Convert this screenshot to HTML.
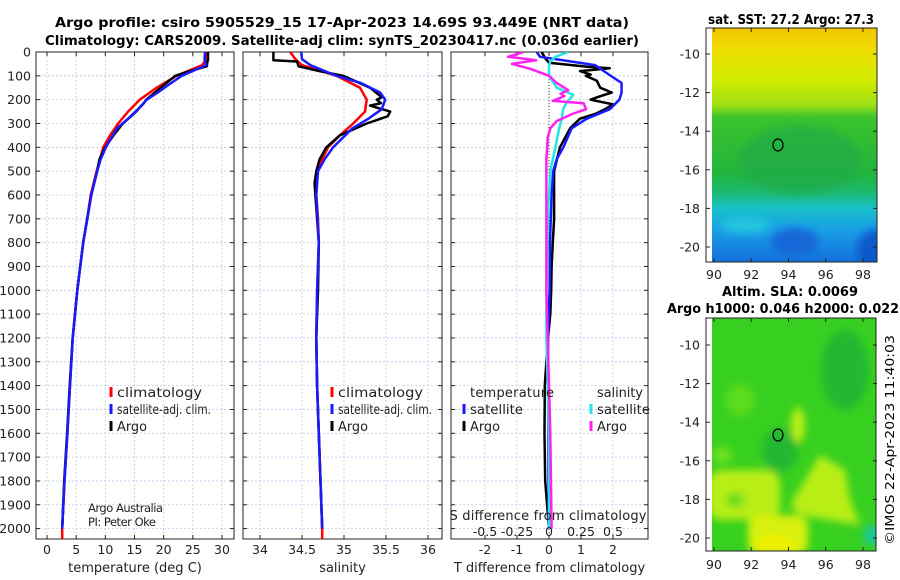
<!DOCTYPE html>
<html><head><meta charset="utf-8"><style>
html,body{margin:0;padding:0;background:#fff;}
svg{display:block;font-family:"DejaVu Sans","Liberation Sans",sans-serif;}
</style></head><body>
<svg id="fig" width="900" height="580" viewBox="0 0 900 580" xmlns="http://www.w3.org/2000/svg">
<defs>
<filter id="blur6" x="-30%" y="-30%" width="160%" height="160%"><feGaussianBlur stdDeviation="6"/></filter>
<filter id="blur4" x="-30%" y="-30%" width="160%" height="160%"><feGaussianBlur stdDeviation="4"/></filter>
<linearGradient id="sstgrad" x1="0" y1="0" x2="0" y2="1">
<stop offset="0" stop-color="#f2c400"/><stop offset="0.09" stop-color="#eedc00"/>
<stop offset="0.22" stop-color="#d2ec00"/><stop offset="0.33" stop-color="#9ee014"/>
<stop offset="0.38" stop-color="#3cc42c"/><stop offset="0.62" stop-color="#22b43c"/>
<stop offset="0.70" stop-color="#1cba70"/><stop offset="0.77" stop-color="#18c0c8"/>
<stop offset="0.86" stop-color="#1aa0e6"/><stop offset="1" stop-color="#1470dc"/>
</linearGradient>
<clipPath id="clipm1"><rect x="712" y="28" width="165" height="234"/></clipPath>
<clipPath id="clipm2"><rect x="712" y="318" width="164" height="233"/></clipPath>
<clipPath id="clipp1"><rect x="36" y="52" width="198" height="487"/></clipPath>
<clipPath id="clipp2"><rect x="243" y="52" width="199" height="487"/></clipPath>
<clipPath id="clipp3"><rect x="451" y="52" width="197" height="487"/></clipPath>
</defs>
<g id="titles">
<text x="342" y="27" text-anchor="middle" font-size="13" font-weight="bold" textLength="574" lengthAdjust="spacingAndGlyphs">Argo profile: csiro 5905529_15 17-Apr-2023 14.69S 93.449E (NRT data)</text>
<text x="342" y="45" text-anchor="middle" font-size="13" font-weight="bold" textLength="594" lengthAdjust="spacingAndGlyphs">Climatology: CARS2009. Satellite-adj clim: synTS_20230417.nc (0.036d earlier)</text>
<text x="791" y="24" text-anchor="middle" font-size="13" font-weight="bold" textLength="166" lengthAdjust="spacingAndGlyphs">sat. SST: 27.2 Argo: 27.3</text>
<text x="790" y="296" text-anchor="middle" font-size="13" font-weight="bold" textLength="136" lengthAdjust="spacingAndGlyphs">Altim. SLA: 0.0069</text>
<text x="783" y="313" text-anchor="middle" font-size="13" font-weight="bold" textLength="232" lengthAdjust="spacingAndGlyphs">Argo h1000: 0.046 h2000: 0.022</text>
<text x="0" y="0" font-size="12" text-anchor="middle" transform="translate(894,440) rotate(-90)" textLength="210" lengthAdjust="spacingAndGlyphs">©IMOS 22-Apr-2023 11:40:03</text>
</g>
<g id="maps">
<g>
<rect x="706" y="28" width="171" height="234" fill="#fff"/>
<g clip-path="url(#clipm1)">
<rect x="712" y="28" width="165" height="234" fill="url(#sstgrad)"/>
<g filter="url(#blur4)">
<ellipse cx="795" cy="242" rx="24" ry="14" fill="#1268d8"/>
<ellipse cx="875" cy="250" rx="18" ry="20" fill="#0c58cc"/>
<ellipse cx="745" cy="225" rx="25" ry="8" fill="#22c6e0"/>
<ellipse cx="800" cy="160" rx="60" ry="35" fill="#22a848" opacity="0.6"/>
</g>
</g>
<rect x="706" y="28" width="171" height="234" fill="none" stroke="#222" stroke-width="1"/>
<ellipse cx="778" cy="145" rx="5" ry="6" fill="none" stroke="#000" stroke-width="1.2"/>
</g>
<g>
<rect x="706" y="318" width="170" height="233" fill="#fff"/>
<g clip-path="url(#clipm2)">
<rect x="712" y="318" width="164" height="233" fill="#38d020"/>
<g filter="url(#blur4)">
<ellipse cx="845" cy="370" rx="24" ry="40" fill="#24b830"/>
<ellipse cx="780" cy="450" rx="18" ry="22" fill="#22b830"/>
<ellipse cx="740" cy="400" rx="14" ry="16" fill="#5cdc1c"/>
<rect x="708" y="470" width="72" height="50" rx="14" fill="#b8ee18"/>
<rect x="748" y="515" width="60" height="40" rx="12" fill="#d8f010"/>
<ellipse cx="775" cy="545" rx="20" ry="10" fill="#eef000"/>
<polygon points="790,505 820,455 845,470 850,500 860,525 830,520 800,515" fill="#b8ee18"/>
<ellipse cx="798" cy="425" rx="7" ry="18" fill="#b8ee18"/>
<ellipse cx="722" cy="455" rx="10" ry="8" fill="#6ee01a"/>
<ellipse cx="735" cy="500" rx="10" ry="8" fill="#70de1a"/>
<ellipse cx="872" cy="535" rx="8" ry="10" fill="#18c8a0"/>
</g>
</g>
<rect x="706" y="318" width="170" height="233" fill="none" stroke="#222" stroke-width="1"/>
<ellipse cx="778" cy="435" rx="5" ry="6" fill="none" stroke="#000" stroke-width="1.2"/>
</g>
<g id="mapaxes"></g>
</g>
<g id="panels"></g>
</svg>
<script>
const NS='http://www.w3.org/2000/svg';
// ---------- data ----------
const depthTicks=[0,100,200,300,400,500,600,700,800,900,1000,1100,1200,1300,1400,1500,1600,1700,1800,1900,2000];
const tTicks=[0,5,10,15,20,25,30];
const sTicks=[34,34.5,35,35.5,36];
const sTickLabels=['34','34.5','35','35.5','36'];
const dTTicks=[-2,-1,0,1,2];
const dSTicks=[-0.5,-0.25,0,0.25,0.5];
const dSTickLabels=['-0.5','-0.25','0','0.25','0.5'];
const lonTicks=[90,92,94,96,98];
const latTicks=[-10,-12,-14,-16,-18,-20];

const climDepth=[0,30,55,100,150,200,250,300,350,400,500,600,700,800,900,1000,1200,1400,1600,1800,2000,2044];
const climTemp=[27.5,27.3,26.6,22.2,18.8,15.9,13.9,12.2,10.8,9.65,8.5,7.5,6.9,6.2,5.7,5.2,4.4,3.95,3.5,3.0,2.6,2.6];
const climSal=[34.36,34.42,34.5,34.91,35.19,35.27,35.25,35.11,34.95,34.81,34.67,34.67,34.69,34.70,34.69,34.68,34.67,34.68,34.70,34.72,34.74,34.74];

const satDepth=[0,30,55,100,130,170,200,240,280,320,400,450,500,600,800,1000,1200,1400,1600,1800,2000];
const satTemp=[27.1,27.0,27.3,23.1,21.3,19.0,17.1,15.6,13.9,12.0,10.1,9.2,8.6,7.6,6.2,5.2,4.4,3.95,3.5,3.0,2.6];
const satSal=[34.49,34.5,34.6,34.91,35.2,35.43,35.49,35.45,35.29,35.1,34.87,34.77,34.69,34.67,34.7,34.68,34.67,34.68,34.7,34.72,34.74];

const argoDepth=[0,20,35,40,60,80,100,150,190,200,215,225,250,270,300,350,400,450,500,550,600,800,1000,1200,1400,1600,1800,2000];
const argoTemp=[27.6,27.6,27.6,27.5,27.4,24.5,22.0,19.5,17.5,17.0,16.6,16.2,15.3,14.4,13.0,11.4,10.0,9.0,8.6,8.1,7.6,6.2,5.2,4.4,3.9,3.45,2.95,2.6];
const argoSal=[34.16,34.16,34.16,34.44,34.46,34.71,34.99,35.31,35.45,35.39,35.44,35.31,35.55,35.52,35.27,34.95,34.79,34.71,34.67,34.65,34.66,34.70,34.69,34.67,34.68,34.70,34.72,34.74];

const dTSatDepth=[0,20,55,97,130,170,200,240,280,320,400,450,500,600,800,1000,1200,1500,1800,2000];
const dTSat=[-0.38,-0.28,1.44,1.9,2.27,2.27,2.2,1.9,1.18,0.71,0.45,0.24,0.13,0.08,0.03,0.02,-0.03,-0.02,-0.02,0];
const dTArgoDepth=[0,30,45,62,68,80,95,100,120,150,170,190,200,220,240,260,280,320,360,400,500,600,700,800,900,1000,1100,1200,1400,1600,1800,2000];
const dTArgo=[-0.23,-0.1,0,1.2,1.9,0.97,1.3,1.15,1.49,1.6,1.96,1.5,1.3,2.0,1.75,1.44,0.97,0.66,0.5,0.34,0.16,0.16,0.16,0.12,0.08,0.07,0.04,-0.03,-0.13,-0.14,-0.12,0];
const dSSatDepth=[0,20,40,60,100,150,180,210,240,280,320,400,500,700,1000,1200,1600,2000];
const dSSat=[0.15,0.05,0.01,0,0,0.06,0.19,0.14,0.11,0.1,0.08,0.05,0.01,-0.01,-0.02,-0.02,0,0];
const dSArgoDepth=[0,20,35,50,70,100,130,160,175,185,205,215,240,260,290,320,360,450,600,1000,1200,1600,2000];
const dSArgo=[-0.2,-0.32,-0.1,-0.29,-0.15,0.0,0.06,0.15,0.09,0.12,0.03,0.27,0.29,0.18,0.06,0.01,-0.01,-0.02,-0.02,-0.02,-0.01,0.01,0.02];

// ---------- scales ----------
const yD=d=>52+d*0.2383;
const xT=t=>47+t*5.833;
const xS=s=>260+(s-34)*84;
const xDT=t=>549+t*32;
const xDS=s=>549+s*128;
const xLon=l=>714+(l-90)*18.62;
const yLat1=l=>54+(-10-l)*19.3;
const yLat2=l=>345+(-10-l)*19.3;

const root=document.getElementById('panels');
function mk(tag,attrs,parent){const e=document.createElementNS(NS,tag);for(const k in attrs)e.setAttribute(k,attrs[k]);(parent||root).appendChild(e);return e;}
function txt(s,x,y,size,anchor,parent,name){const e=mk('text',{x:x,y:y,'font-size':size,'text-anchor':anchor||'middle',fill:'#222'},parent);e.textContent=s;


return e;}

function panel(id,x0,x1,xs,xTickVals,xTickLabs,xlabel,withY){
  const g=mk('g',{});
  
  
  const grid=mk('g',{stroke:'#c0c8ec','stroke-width':0.8,'stroke-dasharray':'2,2'},g);
  depthTicks.forEach(d=>{if(d>0)mk('line',{x1:x0,x2:x1,y1:yD(d),y2:yD(d)},grid);});
  xTickVals.forEach(v=>{mk('line',{x1:xs(v),x2:xs(v),y1:52,y2:539},grid);});
  mk('rect',{x:x0,y:52,width:x1-x0,height:487,fill:'none',stroke:'#222','stroke-width':1},g);
  depthTicks.forEach((d,i)=>{mk('line',{x1:x0,x2:x0+4,y1:yD(d),y2:yD(d),stroke:'#222'},g);mk('line',{x1:x1,x2:x1-4,y1:yD(d),y2:yD(d),stroke:'#222'},g);
    if(withY)txt(String(d),31,yD(d)+4.5,12.5,'end',g,'depth-tick-label');});
  xTickVals.forEach((v,i)=>{mk('line',{x1:xs(v),x2:xs(v),y1:539,y2:535,stroke:'#222'},g);mk('line',{x1:xs(v),x2:xs(v),y1:52,y2:56,stroke:'#222'},g);
    txt(xTickLabs[i],xs(v),554,12.5,'middle',g,'x-tick-label');});
  txt(xlabel,(x0+x1)/2,572,13,'middle',g,'x-axis-title');
  return g;
}
function line(g,clip,xs,vals,depths,color,name,w){
  const pts=vals.map((v,i)=>xs(v).toFixed(1)+','+yD(depths[i]).toFixed(1)).join(' ');
  const p=mk('polyline',{points:pts,fill:'none',stroke:color,'stroke-width':w||2.5,'stroke-linejoin':'round','clip-path':'url(#'+clip+')'},g);
  
  
}
function legend(g,x,y,color,label,name,len){
  mk('rect',{x:x-1.5,y:y-10,width:3,height:10,fill:color},g);
  const t=txt(label,x+6,y,13,'start',g,name);
  if(len){t.setAttribute('textLength',len);t.setAttribute('lengthAdjust','spacingAndGlyphs');}
}

// Panel 1
const g1=panel('temperature-panel',36,234,xT,tTicks,tTicks.map(String),'temperature (deg C)',true);
line(g1,'clipp1',xT,climTemp,climDepth,'#f00','climatology-temp-line');
line(g1,'clipp1',xT,argoTemp,argoDepth,'#000','argo-temp-line');
line(g1,'clipp1',xT,satTemp,satDepth,'#1a1aff','satellite-temp-line');
legend(g1,111,397,'#f00','climatology','legend-climatology',85);
legend(g1,111,414,'#1a1aff','satellite-adj. clim.','legend-satellite',94);
legend(g1,111,431,'#000','Argo','legend-argo',30);
txt('Argo Australia',88,512,11.5,'start',g1,'credit-line-1').setAttribute('textLength','75');
txt('PI: Peter Oke',88,526,11.5,'start',g1,'credit-line-2').setAttribute('textLength','68');

// Panel 2
const g2=panel('salinity-panel',243,442,xS,sTicks,sTickLabels,'salinity',false);
line(g2,'clipp2',xS,climSal,climDepth,'#f00','climatology-sal-line');
line(g2,'clipp2',xS,argoSal,argoDepth,'#000','argo-sal-line');
line(g2,'clipp2',xS,satSal,satDepth,'#1a1aff','satellite-sal-line');
legend(g2,332,397,'#f00','climatology','legend-climatology',85);
legend(g2,332,414,'#1a1aff','satellite-adj. clim.','legend-satellite',94);
legend(g2,332,431,'#000','Argo','legend-argo',30);

// Panel 3
const g3=panel('difference-panel',451,648,xDT,dTTicks,dTTicks.map(String),'T difference from climatology',false);
mk('line',{x1:549,x2:549,y1:52,y2:539,stroke:'#444','stroke-width':1,'stroke-dasharray':'1,2'},g3);
line(g3,'clipp3',xDT,dTArgo,dTArgoDepth,'#000','argo-temp-diff-line');
line(g3,'clipp3',xDT,dTSat,dTSatDepth,'#1a1aff','satellite-temp-diff-line');
line(g3,'clipp3',xDS,dSSat,dSSatDepth,'#22e6e6','satellite-sal-diff-line');
line(g3,'clipp3',xDS,dSArgo,dSArgoDepth,'#ff22ee','argo-sal-diff-line');
txt('temperature',470,397,13,'start',g3,'legend-temperature-heading').setAttribute('textLength','84');
txt('salinity',597,397,13,'start',g3,'legend-salinity-heading').setAttribute('textLength','46');
legend(g3,464,414,'#1a1aff','satellite','legend-temp-satellite',53);
legend(g3,464,431,'#000','Argo','legend-temp-argo',30);
legend(g3,591,414,'#22e6e6','satellite','legend-sal-satellite',53);
legend(g3,591,431,'#ff22ee','Argo','legend-sal-argo',30);
txt('S difference from climatology',548,520,13,'middle',g3,'s-diff-axis-title').setAttribute('textLength','197');
dSTicks.forEach((v,i)=>txt(dSTickLabels[i],xDS(v),536,12.5,'middle',g3,'s-diff-tick-label'));

// Map axes
const ma=document.getElementById('mapaxes');
function mapAxes(yL,top,bot,lblY){
  lonTicks.forEach(l=>{mk('line',{x1:xLon(l),x2:xLon(l),y1:bot,y2:bot-4,stroke:'#222'},ma);mk('line',{x1:xLon(l),x2:xLon(l),y1:top,y2:top+4,stroke:'#222'},ma);
    txt(String(l),xLon(l),lblY,12.5,'middle',ma,'lon-tick-label');});
  latTicks.forEach(l=>{mk('line',{x1:706,x2:710,y1:yL(l),y2:yL(l),stroke:'#222'},ma);mk('line',{x1:877,x2:873,y1:yL(l),y2:yL(l),stroke:'#222'},ma);
    txt(String(l),700,yL(l)+4.5,12.5,'end',ma,'lat-tick-label');});
}
mapAxes(yLat1,28,262,279);
mapAxes(yLat2,318,551,569);
</script>
</body></html>
